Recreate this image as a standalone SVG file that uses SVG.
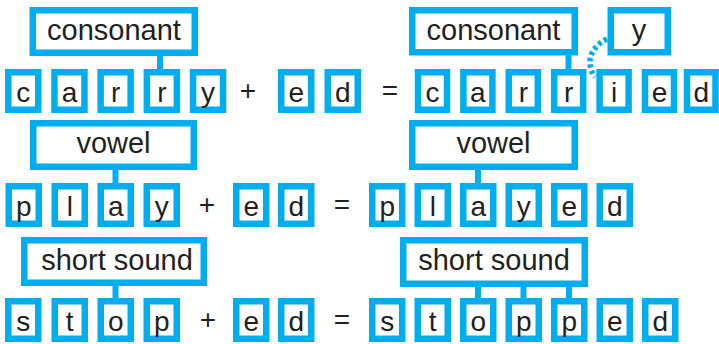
<svg xmlns="http://www.w3.org/2000/svg" width="719" height="344" viewBox="0 0 719 344">
<style>
.b{fill:#fff;stroke:#00AEEF;stroke-width:6.5}
.t{font-family:"Liberation Sans",Arial,sans-serif;font-size:28px;fill:#231F20;text-anchor:middle}
.l{font-size:29px}
.c{stroke:#00AEEF;stroke-width:6;fill:none}
.d{stroke:#00AEEF;stroke-width:5.5;fill:none;stroke-dasharray:3.5 3}
</style>
<rect width="719" height="344" fill="#fff"/>
<g id="connectors">
<line class="c" x1="160" y1="54" x2="160" y2="71"/>
<line class="c" x1="568.5" y1="53" x2="568.5" y2="71"/>
<path class="d" d="M607 39 C592 46 584 62 595 77"/>
<line class="c" x1="115.5" y1="168" x2="115.5" y2="185"/>
<line class="c" x1="478" y1="168" x2="478" y2="185"/>
<line class="c" x1="115.5" y1="284" x2="115.5" y2="300"/>
<line class="c" x1="478" y1="285" x2="478" y2="300"/>
<line class="c" x1="523.5" y1="285" x2="523.5" y2="300"/>
<line class="c" x1="569" y1="285" x2="569" y2="300"/>
</g>
<g id="r1-label-consonant-left"><rect class="b" x="32.75" y="10.25" width="162" height="42.5"/><text class="t l" x="114" y="40">consonant</text></g>
<g id="r1-c"><rect class="b" x="8.25" y="72.25" width="30" height="37.5"/><text class="t" x="23.25" y="102">c</text></g>
<g id="r1-a"><rect class="b" x="54.45" y="72.25" width="30" height="37.5"/><text class="t" x="69.45" y="102">a</text></g>
<g id="r1-r1"><rect class="b" x="100.65" y="72.25" width="30" height="37.5"/><text class="t" x="115.65" y="102">r</text></g>
<g id="r1-r2"><rect class="b" x="146.85" y="72.25" width="30" height="37.5"/><text class="t" x="161.85" y="102">r</text></g>
<g id="r1-y"><rect class="b" x="193.05" y="72.25" width="30" height="37.5"/><text class="t" x="208.05" y="102">y</text></g>
<g id="r1-plus"><text class="t" x="248" y="100">+</text></g>
<g id="r1-e"><rect class="b" x="281.25" y="72.25" width="30" height="37.5"/><text class="t" x="296.25" y="102">e</text></g>
<g id="r1-d"><rect class="b" x="327.75" y="72.25" width="30" height="37.5"/><text class="t" x="342.75" y="102">d</text></g>
<g id="r1-eq"><text class="t" x="390" y="100">=</text></g>
<g id="r1-label-consonant-right"><rect class="b" x="412.25" y="10.25" width="162.5" height="42"/><text class="t l" x="493.5" y="40">consonant</text></g>
<g id="r1-label-y"><rect class="b" x="610.75" y="10.25" width="57" height="42"/><text class="t l" x="639" y="40">y</text></g>
<g id="r1r-c"><rect class="b" x="418" y="72.25" width="29" height="37.5"/><text class="t" x="432.5" y="102">c</text></g>
<g id="r1r-a"><rect class="b" x="463.4" y="72.25" width="29" height="37.5"/><text class="t" x="477.9" y="102">a</text></g>
<g id="r1r-r1"><rect class="b" x="508.8" y="72.25" width="29" height="37.5"/><text class="t" x="523.3" y="102">r</text></g>
<g id="r1r-r2"><rect class="b" x="554.2" y="72.25" width="29" height="37.5"/><text class="t" x="568.7" y="102">r</text></g>
<g id="r1r-i"><rect class="b" x="599.6" y="72.25" width="29" height="37.5"/><text class="t" x="614.1" y="102">i</text></g>
<g id="r1r-e"><rect class="b" x="645" y="72.25" width="29" height="37.5"/><text class="t" x="659.5" y="102">e</text></g>
<g id="r1r-d"><rect class="b" x="687" y="72.25" width="28.5" height="37.5"/><text class="t" x="701.25" y="102">d</text></g>
<g id="r2-label-vowel-left"><rect class="b" x="33.25" y="123.25" width="160.5" height="43.5"/><text class="t l" x="113.5" y="153">vowel</text></g>
<g id="r2-p"><rect class="b" x="8.75" y="186.25" width="30" height="37.5"/><text class="t" x="23.75" y="216">p</text></g>
<g id="r2-l"><rect class="b" x="54.75" y="186.25" width="30" height="37.5"/><text class="t" x="69.75" y="216">l</text></g>
<g id="r2-a"><rect class="b" x="100.75" y="186.25" width="30" height="37.5"/><text class="t" x="115.75" y="216">a</text></g>
<g id="r2-y"><rect class="b" x="146.75" y="186.25" width="30" height="37.5"/><text class="t" x="161.75" y="216">y</text></g>
<g id="r2-plus"><text class="t" x="207" y="214">+</text></g>
<g id="r2-e"><rect class="b" x="236.25" y="186.25" width="30" height="37.5"/><text class="t" x="251.25" y="216">e</text></g>
<g id="r2-d"><rect class="b" x="281.25" y="186.25" width="30" height="37.5"/><text class="t" x="296.25" y="216">d</text></g>
<g id="r2-eq"><text class="t" x="342" y="214">=</text></g>
<g id="r2-label-vowel-right"><rect class="b" x="412.25" y="123.25" width="162.5" height="43.5"/><text class="t l" x="493.5" y="153">vowel</text></g>
<g id="r2r-p"><rect class="b" x="372.25" y="186.25" width="30" height="37.5"/><text class="t" x="387.25" y="216">p</text></g>
<g id="r2r-l"><rect class="b" x="417.75" y="186.25" width="30" height="37.5"/><text class="t" x="432.75" y="216">l</text></g>
<g id="r2r-a"><rect class="b" x="463.25" y="186.25" width="30" height="37.5"/><text class="t" x="478.25" y="216">a</text></g>
<g id="r2r-y"><rect class="b" x="508.75" y="186.25" width="30" height="37.5"/><text class="t" x="523.75" y="216">y</text></g>
<g id="r2r-e"><rect class="b" x="554.25" y="186.25" width="30" height="37.5"/><text class="t" x="569.25" y="216">e</text></g>
<g id="r2r-d"><rect class="b" x="599.75" y="186.25" width="30" height="37.5"/><text class="t" x="614.75" y="216">d</text></g>
<g id="r3-label-short-left"><rect class="b" x="24.25" y="240.25" width="179.5" height="42.5"/><text class="t l" x="117" y="270">short sound</text></g>
<g id="r3-s"><rect class="b" x="8.25" y="301.25" width="30" height="37.5"/><text class="t" x="23.25" y="331">s</text></g>
<g id="r3-t"><rect class="b" x="54.75" y="301.25" width="30" height="37.5"/><text class="t" x="69.75" y="331">t</text></g>
<g id="r3-o"><rect class="b" x="100.75" y="301.25" width="30" height="37.5"/><text class="t" x="115.75" y="331">o</text></g>
<g id="r3-p"><rect class="b" x="146.75" y="301.25" width="30" height="37.5"/><text class="t" x="161.75" y="331">p</text></g>
<g id="r3-plus"><text class="t" x="208" y="329">+</text></g>
<g id="r3-e"><rect class="b" x="236.25" y="301.25" width="30" height="37.5"/><text class="t" x="251.25" y="331">e</text></g>
<g id="r3-d"><rect class="b" x="281.25" y="301.25" width="30" height="37.5"/><text class="t" x="296.25" y="331">d</text></g>
<g id="r3-eq"><text class="t" x="342" y="329">=</text></g>
<g id="r3-label-short-right"><rect class="b" x="403.25" y="240.25" width="181.5" height="43.5"/><text class="t l" x="494" y="270">short sound</text></g>
<g id="r3r-s"><rect class="b" x="372.25" y="301.25" width="30" height="37.5"/><text class="t" x="387.25" y="331">s</text></g>
<g id="r3r-t"><rect class="b" x="417.75" y="301.25" width="30" height="37.5"/><text class="t" x="432.75" y="331">t</text></g>
<g id="r3r-o"><rect class="b" x="463.25" y="301.25" width="30" height="37.5"/><text class="t" x="478.25" y="331">o</text></g>
<g id="r3r-p1"><rect class="b" x="508.75" y="301.25" width="30" height="37.5"/><text class="t" x="523.75" y="331">p</text></g>
<g id="r3r-p2"><rect class="b" x="554.25" y="301.25" width="30" height="37.5"/><text class="t" x="569.25" y="331">p</text></g>
<g id="r3r-e"><rect class="b" x="599.75" y="301.25" width="30" height="37.5"/><text class="t" x="614.75" y="331">e</text></g>
<g id="r3r-d"><rect class="b" x="645.25" y="301.25" width="30" height="37.5"/><text class="t" x="660.25" y="331">d</text></g>
</svg>
